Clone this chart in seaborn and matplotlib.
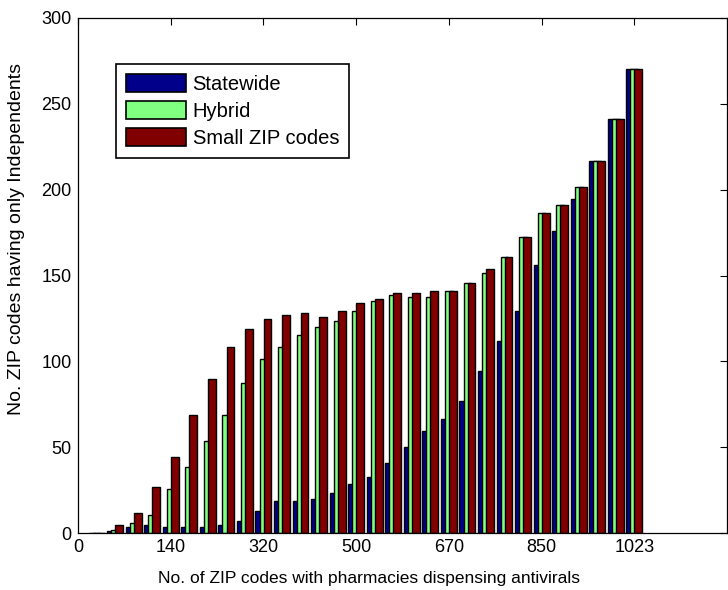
import numpy as np
import pandas as pd
import matplotlib
matplotlib.use("Agg")
import matplotlib.pyplot as plt
import seaborn as sns
from matplotlib.patches import Patch

# ---- data ----
groups = list(range(1, 31))
statewide = [0, 1, 3.3, 4.7, 3.3, 3.3, 3.3, 4.5, 7, 12.8,
             18.6, 18.6, 19.8, 23.3, 28.3, 32.8, 41, 50.3, 59.6, 66.6,
             77.1, 94.5, 111.8, 129.3, 156.1, 176.1, 194.6, 216.9, 241.2, 270.3]
hybrid = [0, 2, 6, 10.5, 25.8, 38.6, 53.6, 68.7, 87.2, 101.4,
          108.2, 115.3, 120, 123.5, 129.5, 135.3, 138.8, 137.7, 137.7, 141,
          145.4, 151.3, 160.6, 172.2, 186.2, 191, 201.7, 216.9, 241.2, 270.3]
small_zip = [0, 4.5, 11.8, 27, 44.5, 68.7, 89.7, 108.5, 118.8, 124.7,
             127, 128.2, 126, 129.3, 134.2, 136.5, 139.8, 139.8, 141, 141,
             145.4, 153.8, 160.6, 172.2, 186.2, 191, 201.7, 216.9, 241.2, 270.3]
series_names = ["Statewide", "Hybrid", "Small ZIP codes"]
tick_positions = [0, 5, 10, 15, 20, 25, 30]
tick_labels = ["0", "140", "320", "500", "670", "850", "1023"]

colors = ["#00008B", "#80FF80", "#800000"]
offsets = [-0.22, 0.0, 0.22]

sns.set_theme(style="white")
plt.rcParams["font.family"] = ["Liberation Sans", "DejaVu Sans"]
plt.rcParams["xtick.direction"] = "in"
plt.rcParams["ytick.direction"] = "in"
plt.rcParams["text.color"] = "black"
plt.rcParams["axes.labelcolor"] = "black"

fig = plt.figure(figsize=(7.28, 5.90), dpi=100)
ax = fig.add_axes([78 / 728, 57 / 590, 649 / 728, 515 / 590])

x = np.array(groups, dtype=float)
for vals, col, off in zip([statewide, hybrid, small_zip], colors, offsets):
    df = pd.DataFrame({"x": x + off, "y": vals})
    sns.barplot(data=df, x="x", y="y", native_scale=True, width=0.42,
                color=col, saturation=1, edgecolor="black", linewidth=1.0,
                errorbar=None, ax=ax)

ax.set_xlim(0, 35)
ax.set_ylim(0, 300)
ax.set_xticks(tick_positions)
ax.set_xticklabels(tick_labels)
ax.set_yticks(range(0, 301, 50))
ax.tick_params(axis="both", which="both", direction="in", length=5, width=0.8,
               top=True, right=True, labelsize=13, colors="black", pad=4.5)
for sp in ax.spines.values():
    sp.set_visible(True)
    sp.set_color("black")
    sp.set_linewidth(0.9)

ax.set_xlabel("No. of ZIP codes with pharmacies dispensing antivirals", fontsize=12.5, color="black")
ax.set_ylabel("No. ZIP codes having only Independents", fontsize=14, color="black")
ax.xaxis.set_label_coords(0.449, -0.073)
ax.yaxis.set_label_coords(-0.081, 0.57)

handles = [Patch(facecolor=c, edgecolor="black", linewidth=1.2) for c in colors]
leg = ax.legend(handles, series_names, loc="upper left",
                bbox_to_anchor=(116 / 728, 1 - 64 / 590), bbox_transform=fig.transFigure,
                fontsize=14.5, frameon=True, fancybox=False, framealpha=1,
                edgecolor="black", handlelength=3.0, handleheight=1.0,
                handletextpad=0.3, labelspacing=0.35, borderpad=0.5, borderaxespad=0)
leg.get_frame().set_linewidth(1.2)
for t in leg.get_texts():
    t.set_color("black")

fig.savefig("out.png", dpi=100)
